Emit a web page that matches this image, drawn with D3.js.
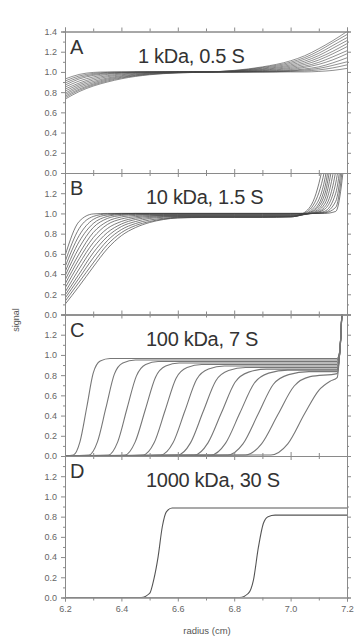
<!DOCTYPE html>
<html>
<head>
<meta charset="utf-8">
<script src="https://cdn.jsdelivr.net/npm/d3@7"></script>
<style>
  body { margin: 0; background: #fff; }
  svg { display: block; font-family: "Liberation Sans", Arial, sans-serif; }
  .axis path, .axis line { stroke: #8a8a8a; }
  .axis text { fill: #666; font-size: 9px; font-family: "Liberation Sans", Arial, sans-serif; }
</style>
</head>
<body>
<svg id="chart" width="363" height="639"></svg>
<script>
const panelLetters = ["A", "B", "C", "D"];
const panelTitles = ["1 kDa, 0.5 S", "10 kDa, 1.5 S", "100 kDa, 7 S", "1000 kDa, 30 S"];
const xTicks = [6.2, 6.4, 6.6, 6.8, 7.0, 7.2];
const xMinor = [6.3, 6.5, 6.7, 6.9, 7.1];
const yTicks = [0, 0.2, 0.4, 0.6, 0.8, 1.0, 1.2, 1.4];
const yMinor = [0.1, 0.3, 0.5, 0.7, 0.9, 1.1, 1.3];

// panel A: scans on a shared radius grid
const radiusA = [6.2, 6.25, 6.3, 6.35, 6.4, 6.5, 6.6, 6.7, 6.8, 6.9, 7.0, 7.05, 7.1, 7.15, 7.2];
const signalA = [
  [0.93, 0.975, 0.995, 1.0, 1.0, 1.0, 1.0, 1.0, 1.0, 1.0, 1.0, 1.0, 1.005, 1.015, 1.035],
  [0.91, 0.96, 0.985, 0.995, 1.0, 1.0, 1.0, 1.0, 1.0, 1.0, 1.005, 1.01, 1.02, 1.04, 1.07],
  [0.89, 0.945, 0.975, 0.99, 0.995, 1.0, 1.0, 1.0, 1.0, 1.0, 1.01, 1.02, 1.035, 1.065, 1.10],
  [0.87, 0.93, 0.965, 0.983, 0.992, 1.0, 1.0, 1.0, 1.0, 1.005, 1.015, 1.03, 1.05, 1.09, 1.14],
  [0.85, 0.91, 0.95, 0.975, 0.988, 0.998, 1.0, 1.0, 1.0, 1.008, 1.024, 1.045, 1.075, 1.12, 1.18],
  [0.83, 0.89, 0.935, 0.963, 0.98, 0.995, 1.0, 1.0, 1.002, 1.013, 1.035, 1.058, 1.095, 1.15, 1.21],
  [0.81, 0.875, 0.92, 0.952, 0.972, 0.992, 0.998, 1.0, 1.004, 1.018, 1.046, 1.074, 1.118, 1.18, 1.25],
  [0.79, 0.86, 0.905, 0.94, 0.963, 0.988, 0.997, 1.0, 1.006, 1.024, 1.058, 1.09, 1.14, 1.205, 1.28],
  [0.775, 0.845, 0.892, 0.93, 0.955, 0.984, 0.995, 1.0, 1.008, 1.03, 1.07, 1.107, 1.162, 1.235, 1.31],
  [0.76, 0.83, 0.88, 0.92, 0.947, 0.98, 0.993, 1.0, 1.01, 1.037, 1.083, 1.125, 1.185, 1.262, 1.34],
  [0.745, 0.818, 0.87, 0.91, 0.94, 0.976, 0.991, 0.999, 1.012, 1.044, 1.096, 1.142, 1.208, 1.29, 1.37],
  [0.73, 0.805, 0.86, 0.9, 0.932, 0.972, 0.99, 0.998, 1.015, 1.05, 1.11, 1.16, 1.23, 1.31, 1.40]
];

// panel B
const radiusB = [6.2, 6.25, 6.3, 6.35, 6.4, 6.45, 6.5, 6.55, 6.6, 6.7, 6.8, 6.9, 7.0, 7.04, 7.08, 7.12, 7.16, 7.2];
const signalB = [
  [0.58, 0.92, 0.995, 1.0, 1.0, 1.0, 1.0, 1.0, 1.0, 1.0, 1.0, 1.0, 1.0, 1.0, 1.0, 1.0, 1.02, 1.8],
  [0.52, 0.85, 0.97, 0.995, 1.0, 1.0, 1.0, 1.0, 1.0, 1.0, 1.0, 1.0, 1.0, 1.0, 1.0, 1.005, 1.06, 1.95],
  [0.47, 0.78, 0.94, 0.985, 0.995, 1.0, 1.0, 1.0, 1.0, 1.0, 1.0, 1.0, 1.0, 1.0, 1.0, 1.01, 1.12, 2.1],
  [0.42, 0.72, 0.9, 0.97, 0.99, 0.995, 0.995, 0.995, 0.995, 0.995, 0.995, 0.995, 0.995, 1.0, 1.0, 1.02, 1.2, 2.2],
  [0.38, 0.66, 0.86, 0.95, 0.98, 0.99, 0.99, 0.99, 0.99, 0.99, 0.99, 0.99, 0.99, 0.995, 1.0, 1.04, 1.3, 2.3],
  [0.34, 0.6, 0.81, 0.92, 0.965, 0.98, 0.985, 0.985, 0.985, 0.985, 0.985, 0.985, 0.985, 0.99, 1.0, 1.06, 1.42, 2.4],
  [0.3, 0.55, 0.76, 0.89, 0.945, 0.968, 0.978, 0.98, 0.98, 0.98, 0.98, 0.98, 0.98, 0.99, 1.005, 1.09, 1.55, 2.5],
  [0.26, 0.5, 0.71, 0.85, 0.92, 0.955, 0.97, 0.975, 0.975, 0.975, 0.975, 0.975, 0.975, 0.985, 1.01, 1.13, 1.7, 2.6],
  [0.22, 0.45, 0.66, 0.81, 0.895, 0.94, 0.96, 0.97, 0.972, 0.972, 0.972, 0.972, 0.972, 0.985, 1.02, 1.18, 1.85, 2.7],
  [0.19, 0.4, 0.61, 0.77, 0.87, 0.92, 0.95, 0.962, 0.968, 0.968, 0.968, 0.968, 0.97, 0.985, 1.03, 1.24, 2.0, 2.8],
  [0.16, 0.36, 0.56, 0.73, 0.84, 0.9, 0.935, 0.952, 0.962, 0.965, 0.965, 0.965, 0.968, 0.985, 1.05, 1.32, 2.1, 2.9],
  [0.13, 0.32, 0.51, 0.69, 0.81, 0.88, 0.92, 0.945, 0.957, 0.962, 0.962, 0.962, 0.966, 0.99, 1.08, 1.42, 2.2, 3.0],
  [0.1, 0.28, 0.47, 0.65, 0.78, 0.86, 0.91, 0.94, 0.955, 0.96, 0.96, 0.96, 0.965, 0.995, 1.12, 1.55, 2.3, 3.1]
];

// panel C: [radius, signal] points per scan, plus the shared rise at the cell bottom
const scansC = [
  [[6.2, 0], [6.23, 0.01], [6.253, 0.14], [6.277, 0.48], [6.3, 0.82], [6.325, 0.94], [6.36, 0.965], [7.165, 0.965]],
  [[6.2, 0], [6.285, 0.01], [6.315, 0.14], [6.345, 0.475], [6.375, 0.81], [6.405, 0.92], [6.45, 0.95], [7.165, 0.95]],
  [[6.2, 0], [6.354, 0.01], [6.387, 0.14], [6.42, 0.47], [6.453, 0.79], [6.486, 0.905], [6.53, 0.935], [7.165, 0.935]],
  [[6.2, 0], [6.413, 0.01], [6.449, 0.14], [6.485, 0.46], [6.521, 0.78], [6.557, 0.89], [6.605, 0.92], [7.165, 0.92]],
  [[6.2, 0], [6.477, 0.01], [6.516, 0.13], [6.555, 0.45], [6.594, 0.77], [6.633, 0.875], [6.685, 0.905], [7.165, 0.905]],
  [[6.2, 0], [6.54, 0.01], [6.583, 0.13], [6.625, 0.445], [6.667, 0.76], [6.709, 0.86], [6.765, 0.89], [7.165, 0.89]],
  [[6.2, 0], [6.6, 0.01], [6.645, 0.13], [6.69, 0.44], [6.735, 0.745], [6.78, 0.845], [6.84, 0.875], [7.165, 0.875]],
  [[6.2, 0], [6.66, 0.01], [6.707, 0.13], [6.755, 0.43], [6.803, 0.73], [6.851, 0.83], [6.915, 0.86], [7.165, 0.86]],
  [[6.2, 0], [6.718, 0.01], [6.769, 0.125], [6.82, 0.425], [6.871, 0.72], [6.922, 0.82], [6.99, 0.85], [7.165, 0.85]],
  [[6.2, 0], [6.777, 0.01], [6.831, 0.12], [6.885, 0.415], [6.939, 0.71], [6.993, 0.805], [7.065, 0.835], [7.165, 0.835]],
  [[6.2, 0], [6.84, 0.01], [6.897, 0.12], [6.955, 0.41], [7.012, 0.69], [7.069, 0.785], [7.165, 0.815]],
  [[6.2, 0], [6.93, 0.01], [6.99, 0.12], [7.05, 0.42], [7.1, 0.65], [7.14, 0.74], [7.165, 0.775]]
];
const tailC = [[7.175, 1.05], [7.185, 1.6], [7.2, 2.4]];

// panel D
const scansD = [
  [[6.2, 0], [6.47, 0], [6.5, 0.04], [6.515, 0.18], [6.53, 0.4], [6.545, 0.7], [6.56, 0.85], [6.58, 0.885], [7.2, 0.885]],
  [[6.2, 0], [6.82, 0], [6.85, 0.04], [6.868, 0.17], [6.886, 0.5], [6.903, 0.73], [6.92, 0.8], [6.945, 0.815], [7.2, 0.815]]
];

const panelData = [
  signalA.map(s => radiusA.map((r, i) => [r, s[i]])),
  signalB.map(s => radiusB.map((r, i) => [r, s[i]])),
  scansC.map(s => s.concat(tailC)),
  scansD
];
const strokeCol = ["#444", "#444", "#777", "#555"];
const strokeW = [0.6, 0.7, 1.1, 1.1];

const svg = d3.select("#chart");
const x = d3.scaleLinear().domain([6.2, 7.2]).range([65, 347]);
const panelH = 141.5;
const top0 = 31.5;
const fmt = d3.format(".1f");

panelData.forEach((scans, p) => {
  const top = top0 + p * panelH;
  const y = d3.scaleLinear().domain([0, 1.4]).range([top + panelH, top]);
  const g = svg.append("g");

  g.append("clipPath").attr("id", "clip" + p)
    .append("rect")
    .attr("x", x(6.2)).attr("y", y(1.4))
    .attr("width", x(7.2) - x(6.2)).attr("height", y(0) - y(1.4));

  const line = d3.line()
    .x(d => x(d[0]))
    .y(d => y(d[1]))
    .curve(d3.curveMonotoneX);

  g.append("g").attr("clip-path", `url(#clip${p})`)
    .selectAll("path")
    .data(scans)
    .join("path")
    .attr("d", line)
    .attr("fill", "none")
    .attr("stroke", strokeCol[p])
    .attr("stroke-width", strokeW[p]);

  // axes
  const labelTicks = p === 0 ? yTicks : yTicks.filter(t => t < 1.3);
  g.append("g").attr("class", "axis").attr("transform", `translate(${x(6.2)},0)`)
    .call(d3.axisLeft(y).tickValues(yTicks).tickSize(4).tickPadding(4)
      .tickFormat(t => labelTicks.includes(t) ? fmt(t) : ""));
  g.append("g").attr("class", "axis").attr("transform", `translate(${x(6.2)},0)`)
    .call(d3.axisLeft(y).tickValues(yMinor).tickSize(2).tickFormat(""));
  g.append("g").attr("class", "axis").attr("transform", `translate(${x(7.2)},0)`)
    .call(d3.axisRight(y).tickValues(yTicks).tickSize(4).tickFormat(""));
  g.append("g").attr("class", "axis").attr("transform", `translate(${x(7.2)},0)`)
    .call(d3.axisRight(y).tickValues(yMinor).tickSize(2).tickFormat(""));

  g.append("g").attr("class", "axis").attr("transform", `translate(0,${y(1.4)})`)
    .call(d3.axisTop(x).tickValues(xTicks).tickSize(4).tickFormat(""));
  g.append("g").attr("class", "axis").attr("transform", `translate(0,${y(1.4)})`)
    .call(d3.axisTop(x).tickValues(xMinor).tickSize(3).tickFormat(""));
  g.append("g").attr("class", "axis").attr("transform", `translate(0,${y(0)})`)
    .call(d3.axisBottom(x).tickValues(xTicks).tickSize(4).tickPadding(4)
      .tickFormat(p === 3 ? fmt : ""));
  g.append("g").attr("class", "axis").attr("transform", `translate(0,${y(0)})`)
    .call(d3.axisBottom(x).tickValues(xMinor).tickSize(3).tickFormat(""));

  g.append("text")
    .attr("x", 70).attr("y", top + 22)
    .attr("font-size", 20).attr("fill", "#333")
    .text(panelLetters[p]);

  g.append("text")
    .attr("x", p === 0 ? 138 : 146).attr("y", top + 31)
    .attr("font-size", 20).attr("fill", "#333")
    .attr("letter-spacing", -0.3)
    .text(panelTitles[p]);
});

svg.append("text")
  .attr("transform", "translate(19,320) rotate(-90)")
  .attr("text-anchor", "middle")
  .attr("font-size", 9).attr("fill", "#555")
  .text("signal");

svg.append("text")
  .attr("x", 207).attr("y", 634)
  .attr("text-anchor", "middle")
  .attr("font-size", 9.5).attr("fill", "#555")
  .text("radius (cm)");
</script>
</body>
</html>
